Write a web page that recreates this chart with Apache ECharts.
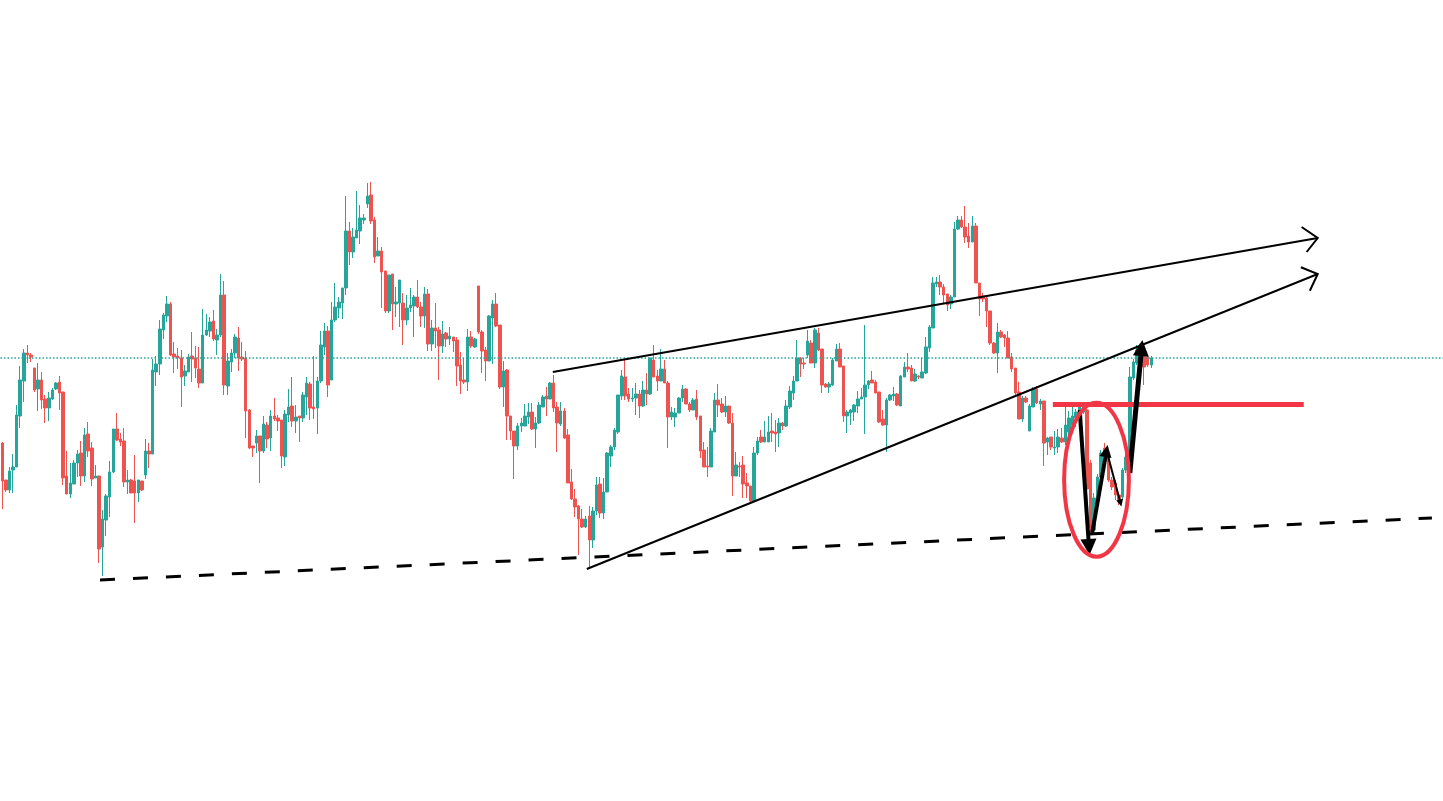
<!DOCTYPE html>
<html>
<head>
<meta charset="utf-8">
<script src="https://cdn.jsdelivr.net/npm/echarts@6/dist/echarts.min.js"></script>
<style>
html,body{margin:0;padding:0;background:#ffffff;}
#chart{width:1443px;height:801px;}
</style>
</head>
<body>
<div id="chart"></div>
<script>
// Candles: [open, close, low, high]
const ohlc = [
[557,519,491,558],[520,510,508,520],[510,529,507,533],[530,533,507,546],[533,585,533,595],
[584,620,572,634],[619,647,598,651],[647,645,637,655],[645,643,638,647],[632,610,608,632],
[611,620,589,637],[620,600,591,628],[601,592,577,605],[592,602,579,608],[601,610,600,612],
[611,617,610,618],[618,607,590,624],[608,522,515,608],[524,506,506,549],[506,517,502,537],
[516,537,516,540],[537,546,523,550],[547,524,514,559],[524,565,518,572],[566,549,543,578],
[552,521,514,558],[522,524,522,535],[524,451,437,524],[453,481,424,490],[480,504,464,506],
[503,528,483,539],[528,571,527,571],[571,560,559,587],[561,558,554,567],[559,518,513,572],
[518,520,506,530],[520,507,507,521],[519,507,477,545],[507,520,498,520],[519,510,509,519],
[525,549,521,561],[549,546,532,557],[546,630,546,641],[628,636,614,644],[636,671,625,680],
[670,685,661,687],[684,696,678,704],[696,645,644,698],[646,643,627,658],[644,642,631,652],
[642,623,593,650],[624,629,614,635],[628,643,628,646],[644,641,618,668],[642,632,622,654],
[631,617,612,653],[617,665,617,691],[665,670,664,686],[669,678,663,683],[679,661,659,690],
[660,665,645,671],[665,705,663,726],[705,615,605,719],[614,639,605,647],[638,647,628,651],
[647,663,642,666],[662,642,629,673],[643,641,639,658],[642,589,562,649],[590,552,551,591],
[554,552,543,554],[557,564,547,570],[564,549,517,564],[549,576,547,584],[575,561,552,578],
[562,584,549,590],[584,581,579,602],[582,579,569,585],[580,544,532,580],[543,586,534,590],
[585,593,578,611],[594,579,573,623],[579,583,567,595],[584,582,558,584],[582,605,578,608],
[603,617,585,623],[616,592,580,618],[593,591,581,644],[592,619,566,623],[619,655,617,669],
[653,669,645,677],[669,615,603,674],[620,680,620,698],[680,693,678,717],[692,698,682,703],
[697,712,681,712],[712,769,705,804],[769,748,735,778],[748,763,742,772],[762,770,762,809],
[769,782,756,795],[780,782,776,786],[796,804,792,817],[805,779,776,818],[780,743,737,783],
[744,749,744,763],[749,728,692,753],[729,689,687,729],[689,725,687,725],[726,696,670,726],
[696,698,683,713],[697,720,673,720],[697,680,655,707],[680,692,675,705],[692,695,688,712],
[694,703,663,705],[703,693,692,720],[693,684,673,698],[684,706,672,713],[706,656,649,711],
[656,672,649,680],[672,669,652,697],[670,654,620,673],[654,666,647,679],[667,661,653,668],
[661,664,655,673],[663,659,648,663],[660,634,614,663],[635,619,606,648],[620,618,616,642],
[618,663,609,671],[663,654,652,669],[653,661,652,662],[714,668,666,714],[668,649,627,670],
[650,639,619,653],[639,684,639,685],[682,696,636,700],[696,674,673,707],[675,613,611,675],
[613,629,593,639],[630,584,560,631],[584,569,560,584],[569,554,521,569],[554,574,550,577],
[574,577,568,582],[574,584,574,596],[583,588,576,597],[588,571,570,597],[571,577,552,583],
[577,595,576,598],[593,603,593,605],[604,601,584,613],[601,617,601,618],[617,592,588,625],
[593,577,548,598],[576,589,574,598],[589,562,561,592],[565,517,517,571],[518,501,500,531],
[501,493,483,511],[494,481,445,495],[481,473,472,491],[473,481,472,484],[484,460,431,494],
[460,489,452,493],[489,515,485,523],[516,487,482,523],[487,508,481,522],[508,547,508,548],
[544,553,533,555],[553,570,550,572],[568,605,566,605],[604,624,600,630],[623,604,600,641],
[606,601,598,612],[601,602,598,612],[602,606,585,617],[606,594,582,610],[594,610,593,619],
[610,606,595,627],[606,642,605,642],[640,623,623,655],[624,619,609,630],[619,631,619,651],
[631,617,617,640],[617,583,552,619],[583,588,580,593],[583,587,573,592],[587,602,587,603],
[602,611,598,615],[611,596,596,612],[596,590,588,598],[590,600,590,602],[601,583,580,610],
[584,549,542,584],[550,533,533,558],[534,533,523,553],[533,569,533,572],[568,600,568,607],
[600,595,583,616],[596,588,587,602],[588,594,583,604],[594,577,576,594],[577,524,504,587],
[524,535,524,548],[534,533,523,538],[535,516,502,544],[517,514,502,527],[514,499,496,514],
[499,547,499,553],[547,559,545,563],[563,558,557,570],[558,563,558,579],[558,568,558,584],
[569,567,558,587],[568,566,548,580],[567,577,553,582],[577,574,570,578],[574,594,573,600],
[593,609,591,614],[607,619,600,624],[619,642,619,660],[642,636,623,643],[637,636,631,642],
[645,659,642,670],[657,637,637,660],[637,670,632,672],[667,650,649,672],[651,615,607,651],
[616,613,612,617],[613,616,607,618],[615,640,614,642],[639,651,639,656],[651,633,633,657],
[634,584,578,634],[584,588,567,590],[587,590,575,591],[588,595,579,596],[594,601,587,609],
[601,603,601,612],[603,615,566,675],[615,619,611,620],[620,617,617,629],[618,607,607,620],
[608,578,577,608],[581,575,574,590],[575,600,548,602],[600,605,599,606],[604,606,599,613],
[606,595,594,607],[594,624,594,625],[623,633,623,638],[633,631,628,647],[632,619,619,635],
[619,626,618,631],[624,623,621,625],[622,628,622,642],[627,653,626,663],[652,673,648,675],
[672,717,672,723],[716,718,713,723],[718,713,705,725],[713,705,697,716],[706,695,689,706],
[696,703,691,705],[703,771,703,778],[771,780,770,784],[780,773,772,784],[773,763,757,794],
[764,758,752,777],[758,774,758,784],[774,717,717,777],[717,701,684,717],[704,701,698,707],
[702,689,673,704],[689,657,655,689],[657,647,646,658],[647,668,627,677],[668,663,662,670],
[665,662,653,666],[662,642,642,669],[643,631,628,647],[632,607,603,632],[608,581,581,618],
[581,602,578,604],[602,598,597,604],[569,594,569,596],[593,611,593,613],[611,597,596,614],
[596,599,590,601],[599,557,534,599],[558,562,545,563],[563,553,550,563],[552,553,545,569],
[553,563,547,571],[562,558,557,572],[558,575,555,593],[568,582,563,589],[575,584,573,594],
[582,588,573,591],[587,593,587,595],[588,595,586,596],[590,511,497,591],[537,472,468,540],
[470,502,467,507],[502,523,500,526],[523,547,521,550],[552,543,540,557],[543,520,518,547],
[520,513,510,523],[517,505,500,520],[505,500,495,507],[503,530,500,532],[530,543,527,548],
[543,623,540,633],[622,638,620,641],[637,650,635,655],[656,645,643,657],[645,633,615,647],
[643,635,633,645],[635,642,632,644]
];
const totalSlots = 403;               // visible bar slots (candles + empty space on the right)
const categories = Array.from({length: totalSlots}, (_, i) => 'D' + (i + 1));
const lastPrice = 642;

// Annotations in data space: [barIndex, price]
const supportDashed = [[27.3, 420], [399.4, 482]];
const upperChannel = [[153.8, 628], [367.5, 762]];
const lowerChannel = [[163.3, 431], [367.5, 726]];
const upperArrowHead = [[363.0, 773], [367.5, 762], [364.4, 748]];
const lowerArrowHead = [[362.8, 732.7], [367.5, 726], [365.3, 709.3]];
const breakLevel = [[293.5, 596], [363.6, 596]];
const arrowDown1 = [[301.0, 590], [303.6, 453]];
const arrowUp1 = [[304.5, 467], [308.5, 549]];
const arrowDown2 = [[308.7, 547], [312.4, 497]];
const arrowUp2 = [[315.0, 527], [318.3, 652]];
const ellipseCenter = [305.7, 520.3];
const ellipseRadii = [9.05, 77];

const chart = echarts.init(document.getElementById('chart'), null, {renderer: 'canvas'});

function seg(coords, color, width, type, polyline, endSymbol, symSize) {
  return {
    type: 'lines', coordinateSystem: 'cartesian2d', xAxisIndex: 1, yAxisIndex: 0,
    polyline: !!polyline, silent: true, z: 5,
    symbol: ['none', endSymbol || 'none'], symbolSize: symSize || 10,
    lineStyle: {color: color, width: width, type: type || 'solid', opacity: 1, cap: 'butt'},
    data: [{coords: coords}]
  };
}

chart.setOption({
  animation: false,
  backgroundColor: '#ffffff',
  grid: {left: 0.5, right: 0, top: 0, bottom: 0, containLabel: false},
  xAxis: [
    {type: 'category', data: categories, boundaryGap: true, show: false},
    {type: 'value', min: -0.5, max: totalSlots - 0.5, show: false}
  ],
  yAxis: [{type: 'value', min: 199, max: 1000, show: false, splitLine: {show: false}}],
  series: [
    {
      type: 'candlestick', xAxisIndex: 0, yAxisIndex: 0, data: ohlc, barWidth: 3,
      itemStyle: {color: '#26a69a', color0: '#ef5350', borderColor: '#26a69a', borderColor0: '#ef5350', borderWidth: 1},
      markLine: {
        silent: true, symbol: ['none', 'none'], label: {show: false},
        lineStyle: {color: '#26a69a', type: [1.5, 2], width: 1.5, opacity: 1},
        data: [{yAxis: lastPrice}]
      }
    },
    seg(supportDashed, '#000000', 3, [15, 18]),
    seg(upperChannel, '#000000', 2),
    seg(lowerChannel, '#000000', 2),
    seg(upperArrowHead, '#000000', 2, 'solid', true),
    seg(lowerArrowHead, '#000000', 2, 'solid', true),
    seg(breakLevel, '#f23645', 5),
    seg(arrowDown1, '#000000', 4, 'solid', false, 'triangle', [14, 16]),
    seg(arrowUp1, '#000000', 4, 'solid', false, 'triangle', [10, 12]),
    seg(arrowDown2, '#000000', 2, 'solid', false, 'triangle', [6, 7]),
    seg(arrowUp2, '#000000', 5, 'solid', false, 'triangle', [14, 16])
  ]
});

const cx = chart.convertToPixel({xAxisIndex: 1}, ellipseCenter[0]);
const cy = chart.convertToPixel({yAxisIndex: 0}, ellipseCenter[1]);
const rx = chart.convertToPixel({xAxisIndex: 1}, ellipseCenter[0] + ellipseRadii[0]) - cx;
const ry = cy - chart.convertToPixel({yAxisIndex: 0}, ellipseCenter[1] + ellipseRadii[1]);
chart.setOption({
  graphic: [{
    type: 'ellipse', silent: true, z: 10,
    shape: {cx: cx, cy: cy, rx: rx, ry: ry},
    style: {fill: 'none', stroke: '#f23645', lineWidth: 4}
  }]
});
</script>
</body>
</html>
